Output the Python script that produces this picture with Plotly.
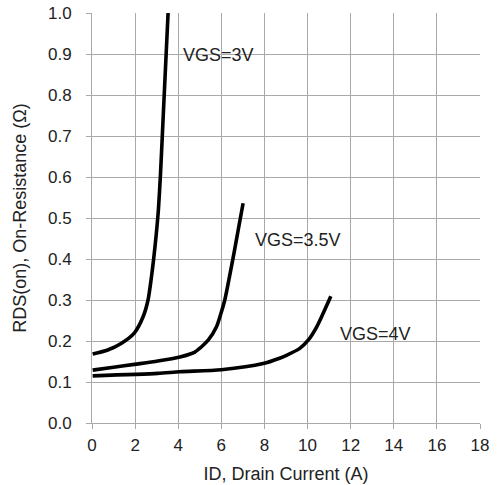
import plotly.graph_objects as go

# VGS = 3V
x_3v = [0.03, 0.73, 1.35, 1.97, 2.37, 2.60, 2.76, 2.86, 2.98, 3.08, 3.18, 3.27, 3.35, 3.44, 3.53]
y_3v = [0.168, 0.178, 0.194, 0.220, 0.259, 0.300, 0.357, 0.400, 0.460, 0.520, 0.610, 0.710, 0.800, 0.900, 1.0]

# VGS = 3.5V
x_35v = [0.03, 1.0, 1.97, 3.05, 4.08, 4.77, 5.39, 5.77, 5.98, 6.16, 6.39, 6.59, 6.78, 7.01]
y_35v = [0.129, 0.136, 0.143, 0.151, 0.161, 0.173, 0.202, 0.234, 0.267, 0.300, 0.360, 0.415, 0.470, 0.536]

# VGS = 4V
x_4v = [0.03, 3.05, 4.07, 6.0, 7.94, 8.7, 9.02, 9.64, 10.03, 10.42, 10.72, 11.08]
y_4v = [0.115, 0.121, 0.125, 0.130, 0.145, 0.158, 0.165, 0.182, 0.202, 0.234, 0.267, 0.309]

labels = ["VGS=3V", "VGS=3.5V", "VGS=4V"]
label_x = [4.13, 7.45, 11.4]
label_y = [0.898, 0.446, 0.217]

x_ticks = [0, 2, 4, 6, 8, 10, 12, 14, 16, 18]
y_ticks = [0.0, 0.1, 0.2, 0.3, 0.4, 0.5, 0.6, 0.7, 0.8, 0.9, 1.0]

FONT = "Liberation Sans, Arial, sans-serif"
TXT = "#222222"

fig = go.Figure()
for xs, ys in [(x_3v, y_3v), (x_35v, y_35v), (x_4v, y_4v)]:
    fig.add_trace(go.Scatter(x=xs, y=ys, mode="lines",
                             line=dict(color="black", width=3.6, shape="spline", smoothing=0.7),
                             showlegend=False, hoverinfo="skip"))

for t, lx, ly in zip(labels, label_x, label_y):
    fig.add_annotation(x=lx, y=ly, text=t, showarrow=False, xanchor="left", yanchor="middle",
                       font=dict(family=FONT, size=18, color=TXT))

grid = "#a9a9a9"
fig.update_xaxes(range=[0, 18], tickvals=x_ticks, ticktext=[str(v) for v in x_ticks],
                 showgrid=True, gridcolor=grid, gridwidth=1, zeroline=False,
                 showline=True, linecolor=grid, linewidth=1, automargin=False,
                 ticks="outside", ticklen=5, tickcolor=grid, ticklabelstandoff=2,
                 ticklabeloverflow="allow",
                 tickfont=dict(family=FONT, size=17, color=TXT),
                 title=dict(text="ID, Drain Current (A)", font=dict(family=FONT, size=18, color=TXT), standoff=12))
fig.update_yaxes(range=[0, 1.0], tickvals=y_ticks, ticktext=[f"{v:.1f}" for v in y_ticks],
                 showgrid=True, gridcolor=grid, gridwidth=1, zeroline=False,
                 showline=True, linecolor=grid, linewidth=1, automargin=False,
                 ticks="outside", ticklen=5, tickcolor=grid, ticklabelstandoff=11,
                 ticklabeloverflow="allow",
                 tickfont=dict(family=FONT, size=17, color=TXT),
                 title=dict(text="RDS(on), On-Resistance (Ω)", font=dict(family=FONT, size=18, color=TXT), standoff=16))

fig.update_layout(width=497, height=485, margin=dict(l=92, r=17, t=13, b=62),
                  plot_bgcolor="white", paper_bgcolor="white")
# remove the default 8px page margin so the figure fills the window
fig.write_html("out.html", config={"displayModeBar": False},
               post_script="document.body.style.margin='0';document.body.style.overflow='hidden';")
